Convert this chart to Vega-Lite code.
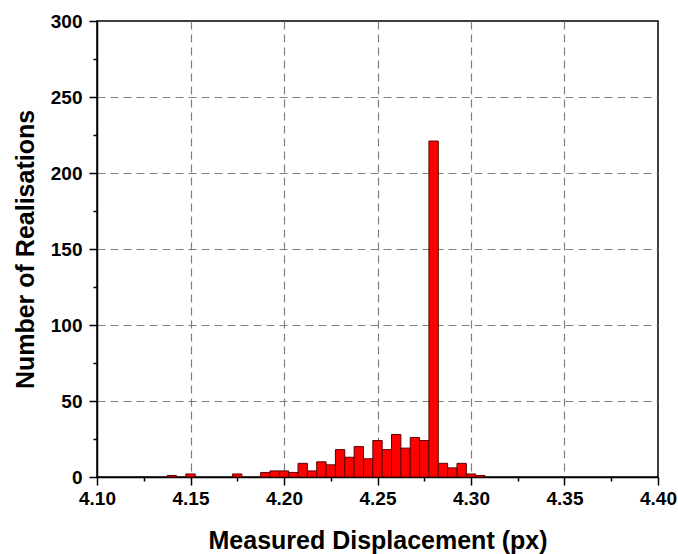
{
  "$schema": "https://vega.github.io/schema/vega-lite/v6.json",
  "autosize": "none",
  "width": 561,
  "height": 456,
  "padding": {"left": 97, "top": 21, "right": 20, "bottom": 77},
  "background": "white",
  "config": {
    "font": "Liberation Sans",
    "view": {"stroke": "black", "strokeWidth": 1.5},
    "axis": {
      "labelFont": "Liberation Sans",
      "labelFontWeight": "bold",
      "labelFontSize": 19,
      "labelColor": "black",
      "titleFont": "Liberation Sans",
      "titleFontWeight": "bold",
      "titleFontSize": 25,
      "titleColor": "black",
      "domainColor": "black",
      "domainWidth": 1.5,
      "tickColor": "black",
      "tickWidth": 1.5,
      "gridColor": "#808080",
      "gridDash": [8, 5],
      "gridWidth": 1.2
    }
  },
  "data": {
    "values": [
      {"lo": 4.1375, "hi": 4.1425, "count": 1},
      {"lo": 4.1475, "hi": 4.1525, "count": 2},
      {"lo": 4.1725, "hi": 4.1775, "count": 2},
      {"lo": 4.1875, "hi": 4.1925, "count": 3},
      {"lo": 4.1925, "hi": 4.1975, "count": 4},
      {"lo": 4.1975, "hi": 4.2025, "count": 4},
      {"lo": 4.2025, "hi": 4.2075, "count": 3},
      {"lo": 4.2075, "hi": 4.2125, "count": 9},
      {"lo": 4.2125, "hi": 4.2175, "count": 4},
      {"lo": 4.2175, "hi": 4.2225, "count": 10},
      {"lo": 4.2225, "hi": 4.2275, "count": 8},
      {"lo": 4.2275, "hi": 4.2325, "count": 18},
      {"lo": 4.2325, "hi": 4.2375, "count": 13},
      {"lo": 4.2375, "hi": 4.2425, "count": 20},
      {"lo": 4.2425, "hi": 4.2475, "count": 12},
      {"lo": 4.2475, "hi": 4.2525, "count": 24},
      {"lo": 4.2525, "hi": 4.2575, "count": 18},
      {"lo": 4.2575, "hi": 4.2625, "count": 28},
      {"lo": 4.2625, "hi": 4.2675, "count": 19},
      {"lo": 4.2675, "hi": 4.2725, "count": 26},
      {"lo": 4.2725, "hi": 4.2775, "count": 24},
      {"lo": 4.2775, "hi": 4.2825, "count": 221},
      {"lo": 4.2825, "hi": 4.2875, "count": 9},
      {"lo": 4.2875, "hi": 4.2925, "count": 6},
      {"lo": 4.2925, "hi": 4.2975, "count": 9},
      {"lo": 4.2975, "hi": 4.3025, "count": 2},
      {"lo": 4.3025, "hi": 4.3075, "count": 1}
    ]
  },
  "mark": {"type": "bar", "fill": "#ff0000", "stroke": "#5a0000", "strokeWidth": 1},
  "encoding": {
    "x": {
      "field": "lo",
      "type": "quantitative",
      "scale": {"domain": [4.1, 4.4], "nice": false, "zero": false},
      "axis": {
        "title": "Measured Displacement (px)",
        "values": [4.1, 4.125, 4.15, 4.175, 4.2, 4.225, 4.25, 4.275, 4.3, 4.325, 4.35, 4.375, 4.4],
        "labelExpr": "round(datum.value*1000) % 50 == 0 ? format(datum.value, '.2f') : ''",
        "tickSize": {"condition": {"test": "round(datum.value*1000) % 50 == 0", "value": 8}, "value": 4},
        "gridOpacity": {"condition": {"test": "round(datum.value*1000) % 50 == 0 && datum.value > 4.11 && datum.value < 4.39", "value": 1}, "value": 0},
        "labelPadding": 4,
        "labelFlush": false,
        "titleY": 71,
        "titleBaseline": "alphabetic"
      }
    },
    "x2": {"field": "hi"},
    "y": {
      "field": "count",
      "type": "quantitative",
      "scale": {"domain": [0, 300], "nice": false},
      "axis": {
        "title": "Number of Realisations",
        "values": [0, 25, 50, 75, 100, 125, 150, 175, 200, 225, 250, 275, 300],
        "labelExpr": "datum.value % 50 == 0 ? format(datum.value, 'd') : ''",
        "tickSize": {"condition": {"test": "datum.value % 50 == 0", "value": 8}, "value": 4},
        "gridOpacity": {"condition": {"test": "datum.value % 50 == 0 && datum.value > 0 && datum.value < 300", "value": 1}, "value": 0},
        "labelPadding": 7,
        "labelFlush": false,
        "titleX": -64,
        "titleBaseline": "alphabetic"
      }
    },
    "y2": {"datum": 0}
  }
}
